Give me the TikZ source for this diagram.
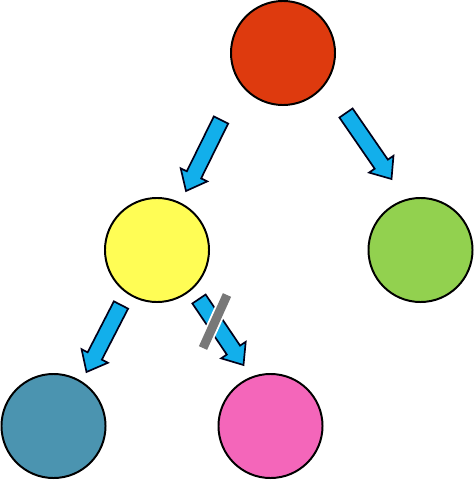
\documentclass[tikz,border=0pt]{standalone}
\usetikzlibrary{calc}
\definecolor{topred}{RGB}{222,58,14}
\definecolor{midyellow}{RGB}{255,253,85}
\definecolor{midgreen}{RGB}{146,209,79}
\definecolor{botblue}{RGB}{75,148,176}
\definecolor{botpink}{RGB}{244,102,186}
\definecolor{arrowcyan}{RGB}{18,175,235}
\definecolor{bargray}{RGB}{120,120,120}
\tikzset{
ball/.style={circle, draw=black, line width=1.4pt, minimum size=2.6cm, inner sep=0pt}, % the coloured discs
fat arrow/.style={draw=black!90!blue, line width=1.2pt, fill=arrowcyan, line join=miter}, % outline and fill of a block arrow
cut bar/.style={draw=bargray, line width=6.4pt, preaction={draw=white, line width=9pt}}, % the stroke that crosses out an arrow
}
% block arrow from tail coordinate #1 to tip coordinate #2
\newcommand{\blockarrow}[2]{%
  \coordinate (hb) at ($(#2)!0.45cm!(#1)$);
  \draw[fat arrow] ($(#1)!0.2cm!90:(#2)$) -- ($(hb)!0.2cm!-90:(#1)$) -- ($(hb)!0.37cm!-90:(#1)$) -- (#2)
    -- ($(hb)!0.37cm!90:(#1)$) -- ($(hb)!0.2cm!90:(#1)$) -- ($(#1)!0.2cm!-90:(#2)$) -- cycle;
}

\begin{document}
\begin{tikzpicture}[x=0.025cm, y=-0.025cm]
            \useasboundingbox (0,0) rectangle (474,480);
            \node[ball, fill=topred] (top) at (283,53) {};
            \node[ball, fill=midyellow] (midl) at (157,250) {};
            \node[ball, fill=midgreen] (midr) at (420.5,250) {};
            \node[ball, fill=botblue] (botl) at (53.5,426) {};
            \node[ball, fill=botpink] (botr) at (270.5,426) {};

            % ends of the arrows, next to the discs they join
            \coordinate (top-midl) at ($(top)+(-62,67)$);
            \coordinate (midl-top) at ($(midl)+(29,-59)$);
            \coordinate (top-midr) at ($(top)+(63,60)$);
            \coordinate (midr-top) at ($(midr)+(-29,-71)$);
            \coordinate (midl-botl) at ($(midl)+(-36,55)$);
            \coordinate (botl-midl) at ($(botl)+(33,-54)$);
            \coordinate (midl-botr) at ($(midl)+(42,49)$);
            \coordinate (botr-midl) at ($(botr)+(-27,-61)$);

            \blockarrow{top-midl}{midl-top}
            \blockarrow{top-midr}{midr-top}
            \blockarrow{midl-botl}{botl-midl}
            \blockarrow{midl-botr}{botr-midl}

            \draw[cut bar] (227,295) -- (203,348);
\end{tikzpicture}
\end{document}
